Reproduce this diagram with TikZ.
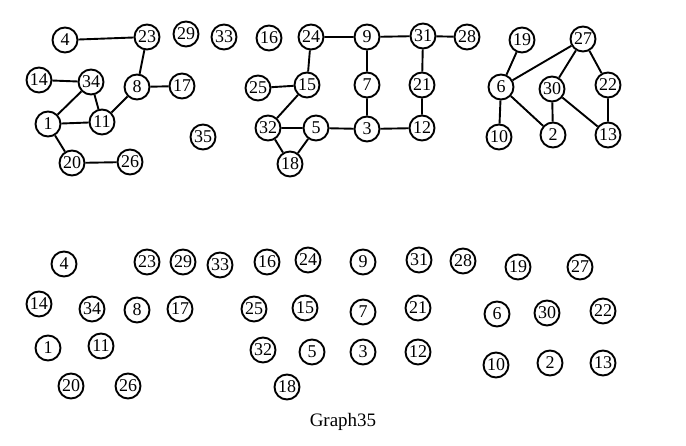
\documentclass[tikz,border=0pt]{standalone}
\usepackage{fontspec}
\setmainfont{Liberation Serif}
\begin{document}
\begin{tikzpicture}[x=1pt,y=-1pt,
  vtx/.style={circle,draw=black,line width=1.9pt,minimum size=25pt,inner sep=0pt,font=\fontsize{18}{18}\selectfont},
  edge/.style={line width=1.9pt}]
\useasboundingbox (0,0) rectangle (686,445);
\fill[white] (0,0) rectangle (686,445);
% top graph
\node[vtx] (t4) at (65,40) {4};
\node[vtx] (t23) at (147,37) {23};
\node[vtx] (t29) at (186,34) {29};
\node[vtx] (t33) at (224,37) {33};
\node[vtx] (t16) at (269,38) {16};
\node[vtx] (t24) at (311,37) {24};
\node[vtx] (t9) at (367,37) {9};
\node[vtx] (t31) at (423,36) {31};
\node[vtx] (t28) at (467,37) {28};
\node[vtx] (t19) at (522,40) {19};
\node[vtx] (t27) at (583,39) {27};
\node[vtx] (t14) at (39,80) {14};
\node[vtx] (t34) at (91,82) {34};
\node[vtx] (t8) at (137,87) {8};
\node[vtx] (t17) at (182,86) {17};
\node[vtx] (t25) at (258,88) {25};
\node[vtx] (t15) at (307,85) {15};
\node[vtx] (t7) at (367,85) {7};
\node[vtx] (t21) at (422,85) {21};
\node[vtx] (t6) at (501,87) {6};
\node[vtx] (t30) at (552,89) {30};
\node[vtx] (t22) at (608,85) {22};
\node[vtx] (t1) at (48,124) {1};
\node[vtx] (t11) at (102,122) {11};
\node[vtx] (t35) at (203,137) {35};
\node[vtx] (t32) at (268,128) {32};
\node[vtx] (t5) at (316,128) {5};
\node[vtx] (t3) at (367,129) {3};
\node[vtx] (t12) at (422,128) {12};
\node[vtx] (t10) at (499,137) {10};
\node[vtx] (t2) at (553,135) {2};
\node[vtx] (t13) at (608,135) {13};
\node[vtx] (t20) at (72,163) {20};
\node[vtx] (t26) at (130,162) {26};
\node[vtx] (t18) at (290,164) {18};
\draw[edge] (t4)--(t23) (t23)--(t8) (t8)--(t17) (t8)--(t11) (t14)--(t34) (t34)--(t1) (t34)--(t11) (t1)--(t11) (t1)--(t20) (t20)--(t26);
\draw[edge] (t24)--(t9) (t9)--(t31) (t31)--(t28) (t24)--(t15) (t9)--(t7) (t31)--(t21) (t25)--(t15) (t15)--(t32) (t7)--(t3) (t21)--(t12) (t32)--(t5) (t5)--(t3) (t3)--(t12) (t32)--(t18) (t5)--(t18);
\draw[edge] (t19)--(t6) (t27)--(t6) (t27)--(t30) (t27)--(t22) (t6)--(t10) (t6)--(t2) (t30)--(t2) (t30)--(t13) (t22)--(t13);
% bottom graph (isolated vertices)
\node[vtx] (b4) at (64,264) {4};
\node[vtx] (b23) at (147,262) {23};
\node[vtx] (b29) at (183,262) {29};
\node[vtx] (b33) at (220,265) {33};
\node[vtx] (b16) at (267,262) {16};
\node[vtx] (b24) at (308,260) {24};
\node[vtx] (b9) at (363,262) {9};
\node[vtx] (b31) at (419,260) {31};
\node[vtx] (b28) at (463,261) {28};
\node[vtx] (b19) at (518,267) {19};
\node[vtx] (b27) at (580,267) {27};
\node[vtx] (b14) at (39,304) {14};
\node[vtx] (b34) at (92,309) {34};
\node[vtx] (b8) at (137,310) {8};
\node[vtx] (b17) at (180,309) {17};
\node[vtx] (b25) at (254,309) {25};
\node[vtx] (b15) at (305,308) {15};
\node[vtx] (b7) at (363,312) {7};
\node[vtx] (b21) at (418,308) {21};
\node[vtx] (b6) at (497,314) {6};
\node[vtx] (b30) at (547,313) {30};
\node[vtx] (b22) at (603,311) {22};
\node[vtx] (b1) at (48,348) {1};
\node[vtx] (b11) at (101,346) {11};
\node[vtx] (b32) at (263,350) {32};
\node[vtx] (b5) at (312,352) {5};
\node[vtx] (b3) at (363,352) {3};
\node[vtx] (b12) at (418,352) {12};
\node[vtx] (b10) at (496,365) {10};
\node[vtx] (b2) at (550,363) {2};
\node[vtx] (b13) at (603,363) {13};
\node[vtx] (b20) at (71,386) {20};
\node[vtx] (b26) at (128,386) {26};
\node[vtx] (b18) at (287,387) {18};
\node[font=\fontsize{19}{19}\selectfont] (title) at (343,422) {Graph35};
\end{tikzpicture}
\end{document}
